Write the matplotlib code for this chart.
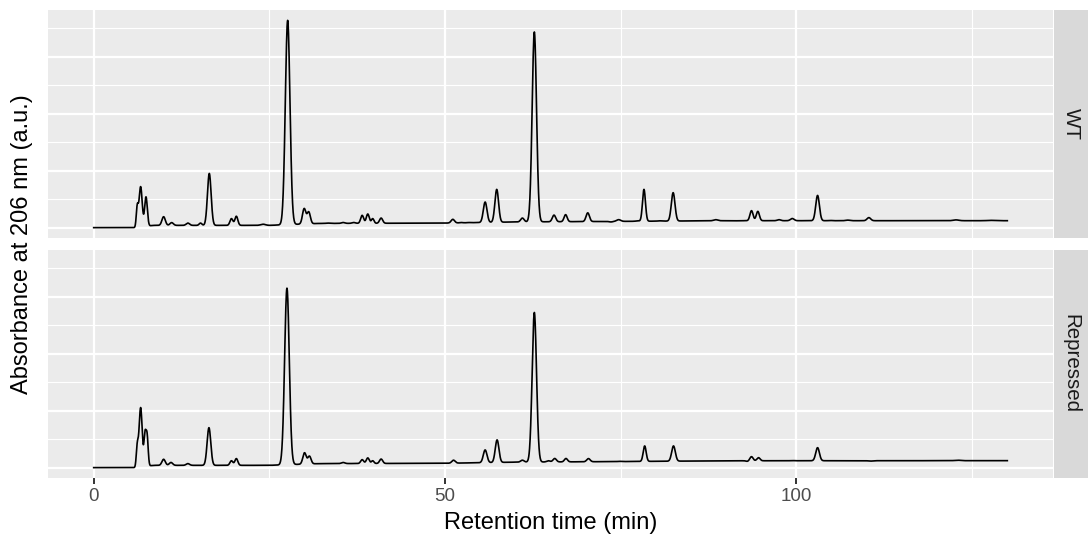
import numpy as np
import matplotlib
matplotlib.use("Agg")
import matplotlib.pyplot as plt

# ---------------- data ----------------
panels = ["WT", "Repressed"]

# baseline drift knots (retention time, absorbance)
base_rt = [0, 5.9, 8.5, 25, 32, 50, 60, 75, 90, 130]
wt_base = [0, 0, 0.02, 0.02, 0.037, 0.04, 0.05, 0.055, 0.061, 0.061]
rep_base = [0, 0, 0.02, 0.02, 0.035, 0.038, 0.048, 0.053, 0.060, 0.061]

# peaks: retention time (min), apex absorbance (a.u.), peak sigma (min)
wt_rt = [6.2, 6.68, 7.44, 9.95, 11.1, 13.4, 15.2, 16.45, 19.6, 20.3, 24.1,
         27.6, 29.95, 30.6, 33.3, 35.5, 37.0, 38.2, 39.0, 39.7, 40.9,
         51.1, 52.3, 53.4, 55.7, 57.35, 61.0, 62.7, 65.5, 67.15, 70.3,
         73.6, 74.7, 77.4, 78.3, 80.5, 82.45, 86.4, 87.3, 88.5, 91.6,
         93.6, 94.5, 97.5, 99.4, 103.0, 104.8, 107.3, 110.3, 122.7, 127.6]
wt_abs = [0.175, 0.36, 0.27, 0.096, 0.044, 0.04, 0.04, 0.476, 0.079, 0.10, 0.03,
          1.821, 0.167, 0.137, 0.04, 0.045, 0.045, 0.108, 0.12, 0.079, 0.084,
          0.073, 0.045, 0.045, 0.225, 0.336, 0.084, 1.719, 0.11, 0.114, 0.13,
          0.05, 0.07, 0.06, 0.336, 0.06, 0.307, 0.06, 0.06, 0.07, 0.06,
          0.149, 0.143, 0.07, 0.08, 0.283, 0.063, 0.066, 0.088, 0.068, 0.064]
wt_sig = [0.14, 0.22, 0.19, 0.24, 0.24, 0.24, 0.19, 0.26, 0.21, 0.21, 0.34,
          0.33, 0.24, 0.23, 0.24, 0.24, 0.24, 0.21, 0.21, 0.18, 0.22,
          0.24, 0.19, 0.19, 0.26, 0.26, 0.24, 0.31, 0.24, 0.22, 0.24,
          0.24, 0.29, 0.24, 0.21, 0.24, 0.26, 0.34, 0.34, 0.29, 0.24,
          0.22, 0.22, 0.24, 0.26, 0.26, 0.24, 0.29, 0.26, 0.39, 0.44]

rep_rt = [6.2, 6.68, 7.3, 7.6, 9.95, 11.0, 13.4, 16.4, 19.6, 20.3,
          27.5, 30.0, 30.7, 35.5, 38.2, 39.0, 39.7, 40.9,
          51.2, 55.7, 57.4, 61.0, 62.7, 64.7, 65.6, 67.2, 70.4, 74.8,
          78.4, 80.5, 82.5, 88.3, 93.0, 93.6, 94.6, 97.5, 99.4, 103.0,
          107.6, 110.5, 122.9]
rep_abs = [0.175, 0.526, 0.28, 0.27, 0.073, 0.045, 0.035, 0.35, 0.06, 0.079,
           1.573, 0.13, 0.10, 0.045, 0.07, 0.085, 0.06, 0.075,
           0.065, 0.155, 0.243, 0.065, 1.36, 0.06, 0.08, 0.08, 0.079, 0.055,
           0.19, 0.055, 0.19, 0.06, 0.055, 0.096, 0.087, 0.06, 0.062, 0.175,
           0.06, 0.057, 0.065]
rep_sig = [0.14, 0.22, 0.15, 0.15, 0.24, 0.24, 0.24, 0.26, 0.21, 0.21,
           0.33, 0.24, 0.23, 0.24, 0.21, 0.21, 0.18, 0.22,
           0.24, 0.26, 0.26, 0.24, 0.31, 0.24, 0.24, 0.22, 0.24, 0.24,
           0.21, 0.24, 0.26, 0.39, 0.19, 0.22, 0.22, 0.24, 0.24, 0.26,
           0.34, 0.29, 0.39]

x_breaks = [0, 50, 100]
x_label = "Retention time (min)"
y_label = "Absorbance at 206 nm (a.u.)"


def trace(rt, ab, sg, base):
    t = np.arange(0, 130.0001, 0.02)
    b = np.interp(t, base_rt, base)
    y = b.copy()
    for r, a, s in zip(rt, ab, sg):
        amp = a - np.interp(r, base_rt, base)
        y += amp * np.exp(-0.5 * ((t - r) / s) ** 2)
    return t, y


series = {
    "WT": trace(wt_rt, wt_abs, wt_sig, wt_base),
    "Repressed": trace(rep_rt, rep_abs, rep_sig, rep_base),
}

# ---------------- figure ----------------
plt.rcParams['font.family'] = ['Liberation Sans', 'DejaVu Sans']
W, H = 1088, 539
fig = plt.figure(figsize=(W / 100, H / 100), dpi=100)

ymin = min(s[1].min() for s in series.values())
ymax = max(s[1].max() for s in series.values())
yr = ymax - ymin
ylim = (ymin - 0.05 * yr, ymax + 0.05 * yr)
xlim = (-6.5, 136.5)

pl, pr = 48, 1053
panel_tb = [(10, 238), (249.5, 478)]
strip_l, strip_r = 1054.3, 1088

for i, name in enumerate(panels):
    top, bot = panel_tb[i]
    ax = fig.add_axes([pl / W, 1 - bot / H, (pr - pl) / W, (bot - top) / H])
    ax.set_facecolor('#EBEBEB')
    ax.set_xlim(*xlim)
    ax.set_ylim(*ylim)
    for v in [25, 75, 125]:
        ax.axvline(v, color='white', lw=0.8, zorder=0)
    for v in [0.25, 0.75, 1.25, 1.75]:
        ax.axhline(v, color='white', lw=0.8, zorder=0)
    for v in x_breaks:
        ax.axvline(v, color='white', lw=1.6, zorder=0)
    for v in [0, 0.5, 1.0, 1.5]:
        ax.axhline(v, color='white', lw=1.6, zorder=0)
    t, y = series[name]
    ax.plot(t, y, color='black', lw=1.2, zorder=3)
    for sp in ax.spines.values():
        sp.set_visible(False)
    ax.set_yticks([])
    ax.set_xticks(x_breaks)
    if i == len(panels) - 1:
        ax.tick_params(axis='x', length=4.2, width=1.4, color='#333333',
                       labelsize=13.5, labelcolor='#4D4D4D', pad=3)
        ax.set_xticklabels([str(v) for v in x_breaks])
    else:
        ax.tick_params(axis='x', length=0, labelbottom=False)

    sax = fig.add_axes([strip_l / W, 1 - bot / H, (strip_r - strip_l) / W, (bot - top) / H])
    sax.set_facecolor('#D9D9D9')
    sax.set_xticks([])
    sax.set_yticks([])
    for sp in sax.spines.values():
        sp.set_visible(False)
    sax.text(0.5, 0.5, name, rotation=-90, ha='center', va='center',
             fontsize=14.8, color='#1A1A1A', transform=sax.transAxes)

fig.text((pl + pr) / 2 / W, 1 - 523 / H, x_label, ha='center', va='center',
         fontsize=17, color='black')
fig.text(22 / W, 1 - 244 / H, y_label, ha='center', va='center',
         rotation=90, fontsize=17, color='black')

fig.savefig("out.png", dpi=100, facecolor='white')
